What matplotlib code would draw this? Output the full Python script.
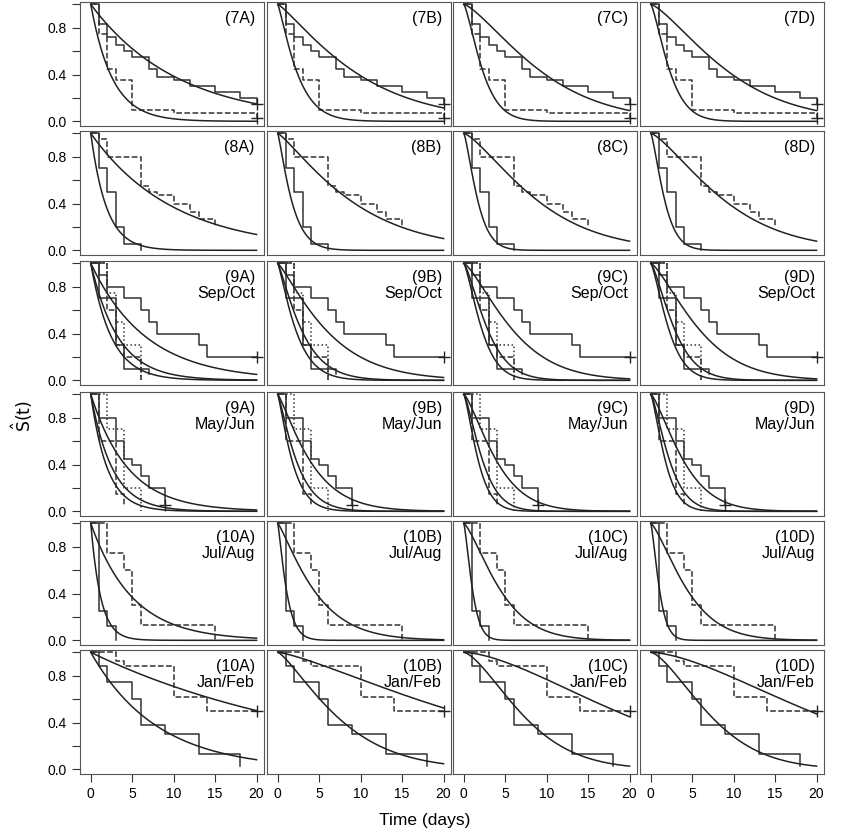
import numpy as np
import matplotlib
matplotlib.use("Agg")
import matplotlib.pyplot as plt

plt.rcParams['font.family'] = ['Liberation Sans', 'DejaVu Sans']

cols = ["A", "B", "C", "D"]
row_ids = ["7", "8", "9", "9", "10", "10"]
row_sub = ["", "", "Sep/Oct", "May/Jun", "Jul/Aug", "Jan/Feb"]

# Kaplan-Meier steps per row: (times, survival, linestyle, censor_at_end)
km = [
    [([0, 1, 2, 3, 4, 5, 7, 8, 10, 12, 15, 18, 20], [1, .83, .72, .65, .6, .55, .45, .38, .35, .3, .25, .2, .15], '-', True),
     ([0, 1, 2, 3, 5, 10, 20], [1, .75, .45, .35, .1, .07, .03], '--', True)],
    [([0, 1, 2, 3, 4, 6], [1, .7, .5, .2, .05, 0], '-', False),
     ([0, 1, 2, 6, 7, 8, 10, 12, 13, 15], [1, .95, .8, .55, .5, .47, .4, .33, .27, .2], '--', False)],
    [([0, 1, 2, 4, 6, 7, 8, 13, 14, 20], [1, .9, .8, .7, .6, .5, .4, .3, .2, .2], '-', True),
     ([0, 2, 3, 4, 6], [1, .6, .3, .2, 0], '--', False),
     ([0, 2, 3, 4, 6], [1, .75, .5, .3, 0], ':', False),
     ([0, 1, 3, 4, 7], [1, .7, .3, .1, .05], '-', False)],
    [([0, 1, 3, 4, 5, 6, 7, 9], [1, .8, .6, .45, .4, .3, .2, .05], '-', True),
     ([0, 1, 3, 4], [1, .6, .15, .05], '--', False),
     ([0, 2, 4, 6], [1, .7, .2, 0], ':', False)],
    [([0, 1, 2, 3], [1, .25, .12, 0], '-', False),
     ([0, 2, 4, 5, 6, 15], [1, .75, .6, .3, .13, 0], '--', False)],
    [([0, 1, 2, 5, 6, 9, 13, 18], [1, .88, .75, .6, .38, .3, .13, .03], '-', False),
     ([0, 3, 4, 10, 14, 20], [1, .93, .88, .62, .5, .5], '--', True)],
]

# Fitted Weibull curves: per row, per column, list of (scale, shape)
curve_params = [
    [[(10.5, 1.0), (2.6, 1.0)], [(10.5, 1.2), (2.6, 1.2)], [(10.5, 1.35), (2.6, 1.35)], [(10.5, 1.35), (2.6, 1.35)]],
    [[(10.0, 1.0), (1.9, 1.0)], [(10.0, 1.2), (1.9, 1.2)], [(10.0, 1.35), (1.9, 1.35)], [(10.0, 1.35), (1.9, 1.35)]],
    [[(6.7, 1.0), (3.3, 1.0), (2.5, 1.0)], [(6.7, 1.2), (3.3, 1.2), (2.5, 1.2)], [(6.7, 1.35), (3.3, 1.35), (2.5, 1.35)], [(6.7, 1.35), (3.3, 1.35), (2.5, 1.35)]],
    [[(4.5, 1.0), (2.6, 1.0), (2.0, 1.0)], [(4.5, 1.2), (2.6, 1.2), (2.0, 1.2)], [(4.5, 1.35), (2.6, 1.35), (2.0, 1.35)], [(4.5, 1.35), (2.6, 1.35), (2.0, 1.35)]],
    [[(5.0, 1.0), (1.2, 1.0)], [(5.0, 1.2), (1.2, 1.2)], [(5.0, 1.35), (1.2, 1.35)], [(5.0, 1.35), (1.2, 1.35)]],
    [[(29.0, 1.0), (8.0, 1.0)], [(28.0, 1.3), (8.5, 1.3)], [(23.0, 1.6), (8.5, 1.5)], [(24.0, 1.6), (8.5, 1.5)]],
]

fig = plt.figure(figsize=(8.5, 8.32), dpi=100)
W, H = 850, 832
lefts = [80, 267, 453, 640]
pw = 184
tops = [2, 131, 261, 392, 521, 650]
ph = 124

t = np.linspace(0, 20, 200)
for r in range(6):
    for c in range(4):
        ax = fig.add_axes([lefts[c] / W, 1 - (tops[r] + ph) / H, pw / W, ph / H])
        for times, surv, ls, cen in km[r]:
            ax.step(times, surv, where='post', color='#333', lw=1.1, ls=ls)
            if cen:
                ax.plot(times[-1], surv[-1], '+', color='#222', ms=9, mew=1)
        for s, k in curve_params[r][c]:
            ax.plot(t, np.exp(-(t / s) ** k), color='#222', lw=1.1)
        ax.set_xlim(-1.3, 20.9)
        ax.set_ylim(-0.04, 1.02)
        ax.set_yticks([0, .2, .4, .6, .8, 1.0])
        ax.set_xticks([0, 5, 10, 15, 20])
        ax.tick_params(direction='out', length=6, labelsize=10, color='#333')
        if c == 0:
            ax.set_yticklabels(['0.0', '', '0.4', '', '0.8', ''])
        else:
            ax.tick_params(axis='y', left=False, labelleft=False)
        if r == 5:
            ax.set_xticklabels(['0', '5', '10', '15', '20'])
        else:
            ax.tick_params(axis='x', bottom=False, labelbottom=False)
        for sp in ax.spines.values():
            sp.set_color('#555')
        lab = "(" + row_ids[r] + cols[c] + ")"
        if row_sub[r]:
            lab += "\n" + row_sub[r]
        ax.text(0.95, 0.93, lab, transform=ax.transAxes, ha='right', va='top',
                fontsize=11.5, linespacing=1.1)

fig.text(0.5, 1 - 820 / H, "Time (days)", ha='center', va='center', fontsize=12.5)
fig.text(22 / W, 0.5, r"$\hat{\mathrm{S}}\mathrm{(t)}$", rotation=90, ha='center', va='center', fontsize=12.5)
fig.savefig("out.png", dpi=100)
